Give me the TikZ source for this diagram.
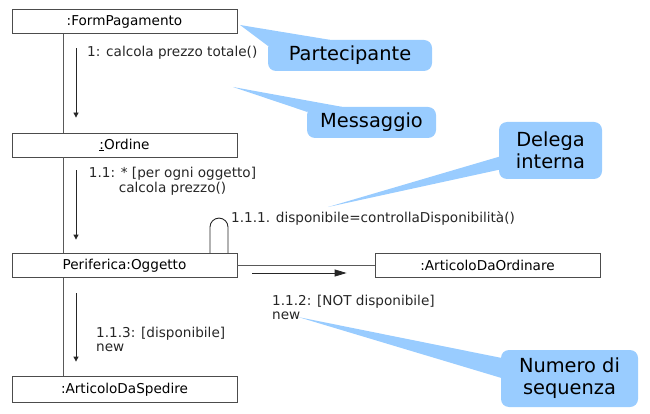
\documentclass[tikz,border=0pt]{standalone}
\usepackage{fontspec}
\setmainfont{DejaVu Sans}
\usetikzlibrary{arrows.meta,positioning,calc}
\definecolor{calloutblue}{RGB}{153,204,255}

\begin{document}
\begin{tikzpicture}[x=1pt,y=-1pt,
    obj/.style={draw=black!70,line width=0.8pt,minimum width=225pt,minimum height=24pt,inner sep=0pt,font=\fontsize{13.6}{14.5}\selectfont},
    link/.style={black!65,line width=0.9pt},
    msg/.style={black!85,line width=0.8pt,-{Triangle[length=5pt,width=5pt]}},
    bigmsg/.style={black!85,line width=0.8pt,-{Triangle[length=12pt,width=7pt]}},
    lbl/.style={inner sep=0pt,font=\fontsize{13.6}{14.5}\selectfont,text=black!85},
    note/.style={fill=calloutblue,rounded corners=8pt,inner sep=0pt,align=center,font=\fontsize{19.4}{22}\selectfont},
    tail/.style={fill=calloutblue}
  ]
    \useasboundingbox (0,0) rectangle (650,414);

    % Objects of the collaboration
    \node[obj] (form) at (124.5,21.5) {:FormPagamento};
    \node[obj] (ordine) at (124.5,145) {\underline{:}Ordine};
    \node[obj] (peri) at (124.5,265.5) {Periferica:Oggetto};
    \node[obj,minimum height=26pt] (spedire) at (124.5,389.5) {:ArticoloDaSpedire};
    \node[obj] (ordinare) at (487.5,265.5) {:ArticoloDaOrdinare};

    % Links between objects
    \draw[link] ([xshift=-61.5pt]form.south) -- ([xshift=-61.5pt]ordine.north);
    \draw[link] ([xshift=-61.5pt]ordine.south) -- ([xshift=-61.5pt]peri.north);
    \draw[link] ([xshift=-61.5pt]peri.south) -- ([xshift=-61.5pt]spedire.north);
    \draw[link] (peri.east) -- (ordinare.west);

    % Messages along the links
    \draw[msg] ([xshift=-48.5pt,yshift=-14.5pt]form.south) -- ([xshift=-48.5pt,yshift=15pt]ordine.north);
    \draw[msg] ([xshift=-48.5pt,yshift=-13pt]ordine.south) -- ([xshift=-48.5pt,yshift=13.5pt]peri.north);
    \draw[msg] ([xshift=-48.5pt,yshift=-15.5pt]peri.south) -- ([xshift=-48.5pt,yshift=14.5pt]spedire.north);
    \draw[bigmsg] ([xshift=15pt,yshift=-7.5pt]peri.east) -- ([xshift=-28pt,yshift=-7.5pt]ordinare.west);

    % Self call on Periferica:Oggetto
    \draw[black!85,line width=0.9pt] ([xshift=85.5pt]peri.north) -- ++(0,-26)
      arc[start angle=180,end angle=0,radius=9pt] -- ++(0,26);

    % Message labels
    \node[lbl,anchor=base west] (m1) at (87,57) {1: calcola prezzo totale()};
    \node[lbl,align=center,anchor=north] (m11) at (172.5,167) {1.1: * [per ogni oggetto]\\calcola prezzo()};
    \node[lbl,anchor=base west] (m111) at (231,222.5) {1.1.1. disponibile=controllaDisponibilità()};
    \node[lbl,align=left,anchor=north west] (m112) at (272,294.7) {1.1.2: [NOT disponibile]\\new};
    \node[lbl,align=left,anchor=north west] (m113) at (96,326.7) {1.1.3: [disponibile]\\new};

    % Callouts
    \node[note,minimum width=164pt,minimum height=31pt] (part) at (350,55.5) {Partecipante};
    \node[note,minimum width=129pt,minimum height=31pt] (mess) at (371.5,122.5) {Messaggio};
    \node[note,minimum width=103pt,minimum height=57pt] (deleg) at (550.5,150.5) {Delega\\interna};
    \node[note,minimum width=137pt,minimum height=57pt] (seq) at (569.5,378.5) {Numero di\\sequenza};

    \coordinate (tipPart) at (240,25);
    \coordinate (tipMess) at (233,87);
    \coordinate (tipDeleg) at (328,207);
    \coordinate (tipSeq) at (298,317);

    \fill[tail] (tipPart) -- ([yshift=-6pt]part.north west) -- ([xshift=62pt]part.north west) -- cycle;
    \fill[tail] (tipMess) -- ([yshift=-5pt]mess.north west) -- ([xshift=35pt]mess.north west) -- cycle;
    \fill[tail] (tipDeleg) -- ([yshift=-35pt]deleg.north west) -- ([yshift=-48pt]deleg.north west) -- cycle;
    \fill[tail] (tipSeq) -- ([yshift=-8pt]seq.north west) -- ([yshift=-28pt]seq.north west) -- cycle;
\end{tikzpicture}
\end{document}
